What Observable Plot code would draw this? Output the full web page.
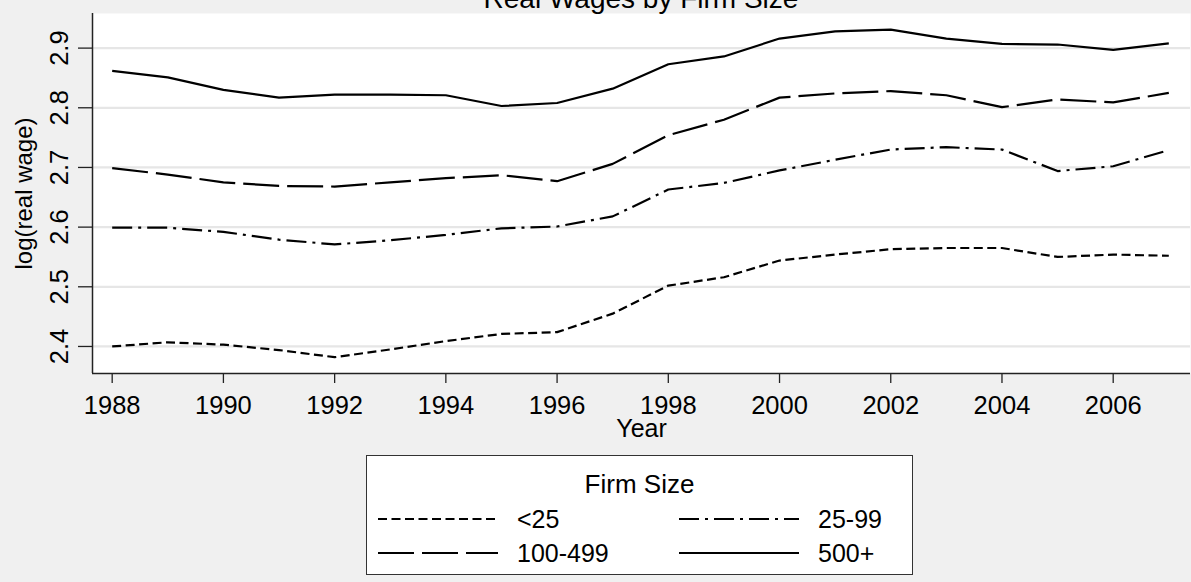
<!DOCTYPE html>
<html>
<head>
<meta charset="utf-8">
<script src="https://cdn.jsdelivr.net/npm/d3@7"></script>
<script src="https://cdn.jsdelivr.net/npm/@observablehq/plot@0.6"></script>
<style>
  html, body { margin: 0; padding: 0; background: #f0f0f0; }
  body { font-family: "Liberation Sans", Arial, Helvetica, sans-serif; color: #000; }
  #wrap { position: relative; width: 1191px; height: 582px; overflow: hidden; background: #f0f0f0; }
  #chart { position: absolute; left: 0; top: 0; }
  #title { position: absolute; left: 92px; width: 1098px; top: -15px; text-align: center;
           font-size: 28px; line-height: 28px; white-space: nowrap; z-index: 0; }
  #legend { position: absolute; left: 366px; top: 455px; width: 547px; height: 120px;
            box-sizing: border-box; border: 1.5px solid #333; background: #fff; }
  #legend .ttl { position: absolute; left: 0; width: 100%; top: 15px; text-align: center;
                 font-size: 26px; line-height: 26px; }
  #legend .item { position: absolute; height: 26px; }
  #legend .item svg { position: absolute; left: 0; top: 0; }
  #legend .item span { position: absolute; font-size: 25px; line-height: 26px; white-space: nowrap; }
</style>
</head>
<body>
<div id="wrap">
  <div id="chart"></div>
  <div id="title"></div>
  <div id="legend"></div>
</div>
<script>
// ---- data ----
const years = [1988, 1989, 1990, 1991, 1992, 1993, 1994, 1995, 1996, 1997,
               1998, 1999, 2000, 2001, 2002, 2003, 2004, 2005, 2006, 2007];
const seriesNames = ["<25", "25-99", "100-499", "500+"];
const wageLt25  = [2.400, 2.407, 2.403, 2.394, 2.382, 2.395, 2.409, 2.421, 2.424, 2.455,
                   2.502, 2.516, 2.544, 2.554, 2.563, 2.565, 2.565, 2.550, 2.554, 2.552];
const wage25_99 = [2.599, 2.599, 2.592, 2.579, 2.571, 2.578, 2.587, 2.598, 2.601, 2.618,
                   2.663, 2.674, 2.695, 2.713, 2.730, 2.734, 2.730, 2.694, 2.702, 2.729];
const wage100_499 = [2.699, 2.688, 2.675, 2.669, 2.668, 2.675, 2.682, 2.687, 2.677, 2.706,
                     2.754, 2.780, 2.817, 2.824, 2.828, 2.821, 2.801, 2.814, 2.809, 2.825];
const wage500 = [2.862, 2.851, 2.830, 2.817, 2.822, 2.822, 2.821, 2.803, 2.808, 2.832,
                 2.873, 2.886, 2.916, 2.928, 2.931, 2.916, 2.907, 2.906, 2.897, 2.908];
const xTicks = [1988, 1990, 1992, 1994, 1996, 1998, 2000, 2002, 2004, 2006];
const yTicks = [2.4, 2.5, 2.6, 2.7, 2.8, 2.9];
const titleText = "Real Wages by Firm Size";
const xLabel = "Year";
const yLabel = "log(real wage)";
const legendTitle = "Firm Size";

// ---- styles ----
const dashes = {"<25": "9,4.5", "25-99": "20,6,3,6", "100-499": "36,8", "500+": null};
const valuesBySeries = {"<25": wageLt25, "25-99": wage25_99, "100-499": wage100_499, "500+": wage500};

const rows = seriesNames.flatMap(s => years.map((yr, i) => ({series: s, year: yr, value: valuesBySeries[s][i]})));

const xDomain = [1987.646, 2007.39];
const yDomain = [2.3547, 2.958];

const lineMarks = seriesNames.map(s => Plot.line(rows.filter(r => r.series === s), {
  x: "year", y: "value", stroke: "#000", strokeWidth: 2.2,
  strokeDasharray: dashes[s] || undefined, strokeLinejoin: "round", strokeLinecap: "butt"
}));

const chart = Plot.plot({
  width: 1191,
  height: 450,
  marginLeft: 92,
  marginRight: 1,
  marginTop: 13,
  marginBottom: 77,
  style: {background: "transparent", fontFamily: "'Liberation Sans', Arial, sans-serif", color: "#000"},
  x: {domain: xDomain},
  y: {domain: yDomain},
  marks: [
    Plot.frame({fill: "#fff", stroke: null}),
    Plot.gridY(yTicks, {stroke: "#e6e6e6", strokeOpacity: 1, strokeWidth: 2.2}),
    ...lineMarks,
    Plot.ruleX([xDomain[0]], {stroke: "#222", strokeWidth: 1.5}),
    Plot.ruleY([yDomain[0]], {stroke: "#222", strokeWidth: 1.5}),
    Plot.axisX({ticks: xTicks, tickFormat: d => String(d), tickSize: 10, tickPadding: 12,
                fontSize: 25.5, stroke: "#222", strokeWidth: 1.3, label: null}),
    Plot.axisY({ticks: yTicks, tickFormat: () => "", tickSize: 14, stroke: "#222", strokeWidth: 1.3, label: null}),
    Plot.text(yTicks, {y: d => d, text: d => d.toFixed(1), frameAnchor: "left", dx: -25,
                       rotate: -90, textAnchor: "middle", lineAnchor: "bottom", fontSize: 25.5, fill: "#000"}),
    Plot.text([yLabel], {frameAnchor: "left", dx: -61, rotate: -90, textAnchor: "middle",
                         lineAnchor: "bottom", fontSize: 24, fill: "#000"}),
    Plot.text([xLabel], {frameAnchor: "bottom", dy: 63, textAnchor: "middle",
                         lineAnchor: "bottom", fontSize: 25, fill: "#000"})
  ]
});
document.getElementById("chart").appendChild(chart);
document.getElementById("title").textContent = titleText;

// ---- legend ----
const legend = document.getElementById("legend");
const lt = document.createElement("div");
lt.className = "ttl";
lt.textContent = legendTitle;
legend.appendChild(lt);
const legendPos = [
  {s: "<25", left: 11, top: 50},
  {s: "25-99", left: 312, top: 50},
  {s: "100-499", left: 11, top: 84},
  {s: "500+", left: 312, top: 84}
];
legendPos.forEach(p => {
  const item = document.createElement("div");
  item.className = "item";
  item.style.left = p.left + "px";
  item.style.top = p.top + "px";
  item.style.width = "230px";
  const svg = d3.create("svg").attr("width", 122).attr("height", 26);
  svg.append("line").attr("x1", 0).attr("x2", 120).attr("y1", 13).attr("y2", 13)
    .attr("stroke", "#000").attr("stroke-width", 2.2)
    .attr("stroke-dasharray", dashes[p.s] || null);
  item.appendChild(svg.node());
  const sp = document.createElement("span");
  sp.style.left = "139px";
  sp.style.top = "0px";
  sp.textContent = p.s;
  item.appendChild(sp);
  legend.appendChild(item);
});
</script>
</body>
</html>
